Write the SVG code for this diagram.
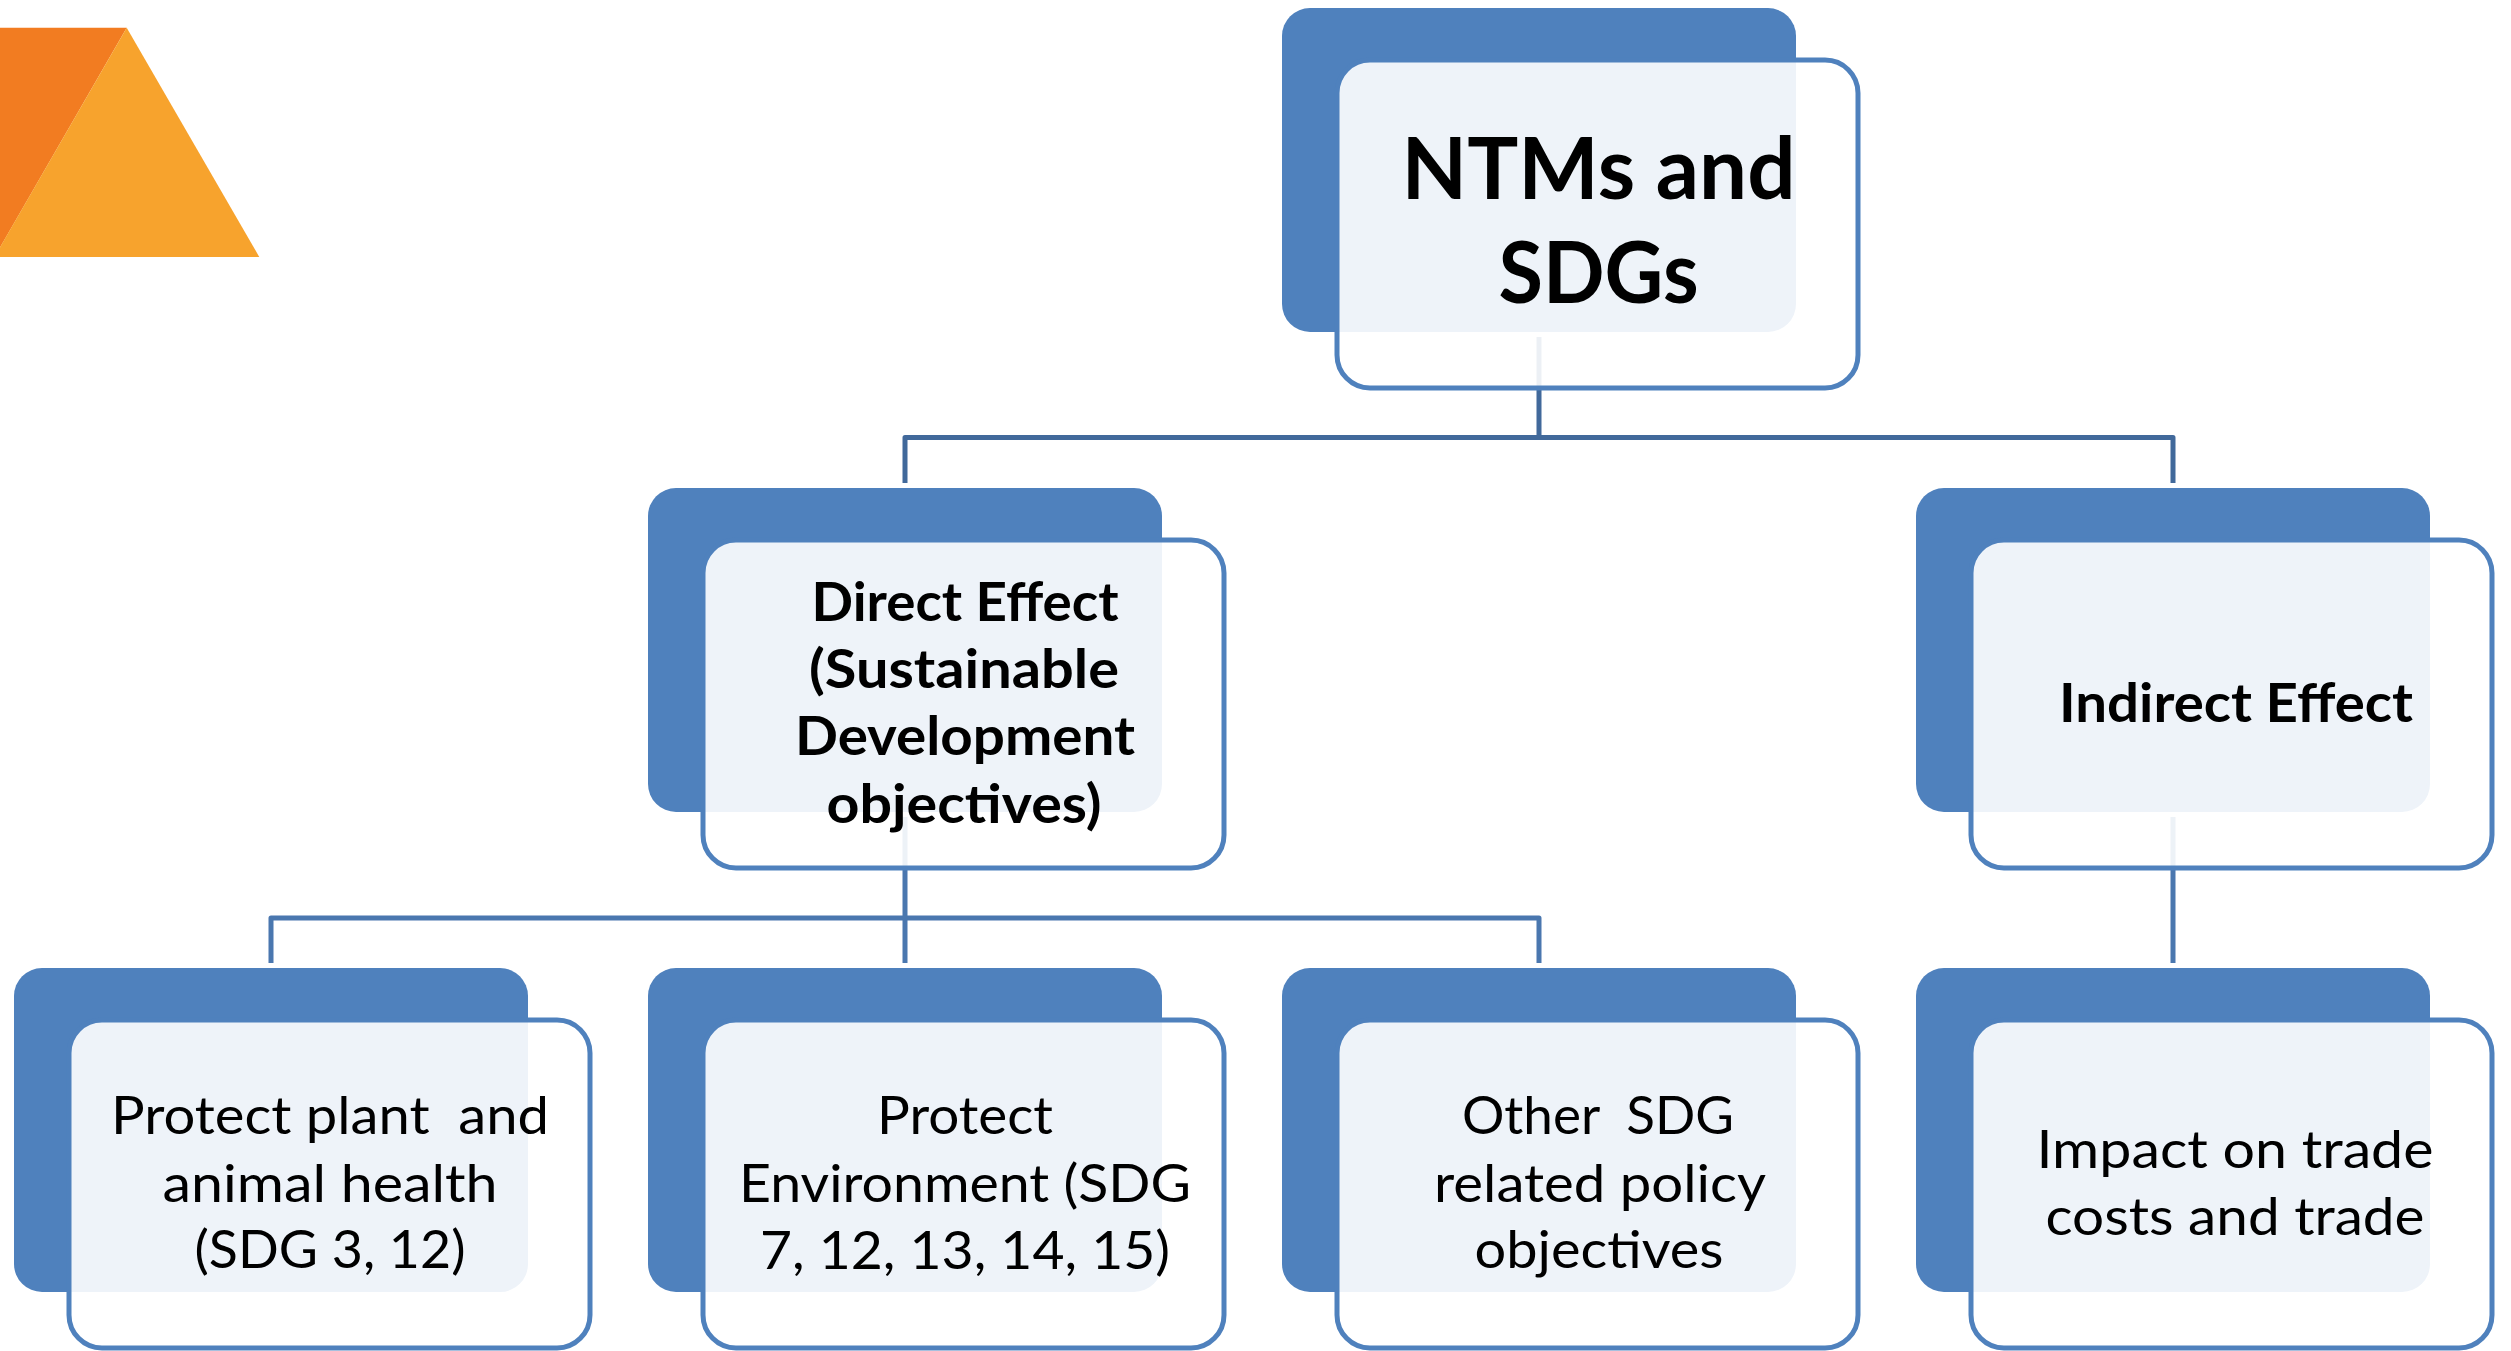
<svg xmlns="http://www.w3.org/2000/svg" width="2511" height="1351" viewBox="0 0 2511 1351">
<style>
.back{fill:#4F81BD}
.front{fill:#FFFFFF;fill-opacity:0.9;stroke:#4F81BD;stroke-width:5}
.t{font-family:Lato,"Open Sans","Liberation Sans",sans-serif;fill:#000;text-anchor:middle}
.b{font-weight:bold}
.big{font-size:87px}
.mid{font-size:53px}
.reg{font-size:52px}
.c1{fill:none;stroke:#41699B;stroke-width:5;stroke-linejoin:round}
.c2{fill:none;stroke:#4A77AF;stroke-width:5;stroke-linejoin:round}
</style>
<rect width="2511" height="1351" fill="#FFFFFF"/>
<g id="logo">
<polygon points="0,27.7 126.7,27.7 0,247.5" fill="#F27C21"/>
<polygon points="126.7,27.7 259.3,257 -5.6,257" fill="#F7A32D"/>
</g>
<g id="connectors">
<path class="c1" d="M1539 337 V437.5 M905 483 V437.5 H2173 V483"/>
<path class="c2" d="M905 817 V963 M271 963 V918 H1539 V963"/>
<path class="c2" d="M2173 817 V963"/>
</g>
<g id="node-ntms">
<rect class="back" x="1282" y="8" width="514" height="324" rx="28"/>
<rect class="front" x="1337" y="60" width="521" height="328" rx="33"/>
<text class="t b big" x="1598.5" y="199" textLength="394" lengthAdjust="spacingAndGlyphs">NTMs and</text>
<text class="t b big" x="1598.5" y="303" textLength="200" lengthAdjust="spacingAndGlyphs">SDGs</text>
</g>
<g id="node-direct">
<rect class="back" x="648" y="488" width="514" height="324" rx="28"/>
<rect class="front" x="703" y="540" width="521" height="328" rx="33"/>
<text class="t b mid" x="965" y="621" textLength="307" lengthAdjust="spacingAndGlyphs">Direct Effect</text>
<text class="t b mid" x="964" y="688" textLength="310" lengthAdjust="spacingAndGlyphs">(Sustainable</text>
<text class="t b mid" x="965" y="755" textLength="340" lengthAdjust="spacingAndGlyphs">Development</text>
<text class="t b mid" x="964" y="823" textLength="275" lengthAdjust="spacingAndGlyphs">objectives)</text>
</g>
<g id="node-indirect">
<rect class="back" x="1916" y="488" width="514" height="324" rx="28"/>
<rect class="front" x="1971" y="540" width="521" height="328" rx="33"/>
<text class="t b mid" x="2236" y="722" textLength="354" lengthAdjust="spacingAndGlyphs">Indirect Effect</text>
</g>
<g id="node-plant">
<rect class="back" x="14" y="968" width="514" height="324" rx="28"/>
<rect class="front" x="69" y="1020" width="521" height="328" rx="33"/>
<text class="t reg" x="330" y="1134" textLength="438" lengthAdjust="spacingAndGlyphs" xml:space="preserve">Protect plant  and</text>
<text class="t reg" x="330" y="1202" textLength="335" lengthAdjust="spacingAndGlyphs">animal health</text>
<text class="t reg" x="330" y="1268" textLength="271" lengthAdjust="spacingAndGlyphs">(SDG 3, 12)</text>
</g>
<g id="node-environment">
<rect class="back" x="648" y="968" width="514" height="324" rx="28"/>
<rect class="front" x="703" y="1020" width="521" height="328" rx="33"/>
<text class="t reg" x="965" y="1134" textLength="176" lengthAdjust="spacingAndGlyphs">Protect</text>
<text class="t reg" x="965" y="1202" textLength="452" lengthAdjust="spacingAndGlyphs">Environment (SDG</text>
<text class="t reg" x="965" y="1269" textLength="410" lengthAdjust="spacingAndGlyphs">7, 12, 13, 14, 15)</text>
</g>
<g id="node-other">
<rect class="back" x="1282" y="968" width="514" height="324" rx="28"/>
<rect class="front" x="1337" y="1020" width="521" height="328" rx="33"/>
<text class="t reg" x="1598" y="1134" textLength="272" lengthAdjust="spacingAndGlyphs" xml:space="preserve">Other  SDG</text>
<text class="t reg" x="1600" y="1202" textLength="332" lengthAdjust="spacingAndGlyphs">related policy</text>
<text class="t reg" x="1599" y="1268" textLength="249" lengthAdjust="spacingAndGlyphs">objectives</text>
</g>
<g id="node-impact">
<rect class="back" x="1916" y="968" width="514" height="324" rx="28"/>
<rect class="front" x="1971" y="1020" width="521" height="328" rx="33"/>
<text class="t reg" x="2235" y="1168" textLength="397" lengthAdjust="spacingAndGlyphs">Impact on trade</text>
<text class="t reg" x="2235" y="1235" textLength="379" lengthAdjust="spacingAndGlyphs">costs and trade</text>
</g>
</svg>
